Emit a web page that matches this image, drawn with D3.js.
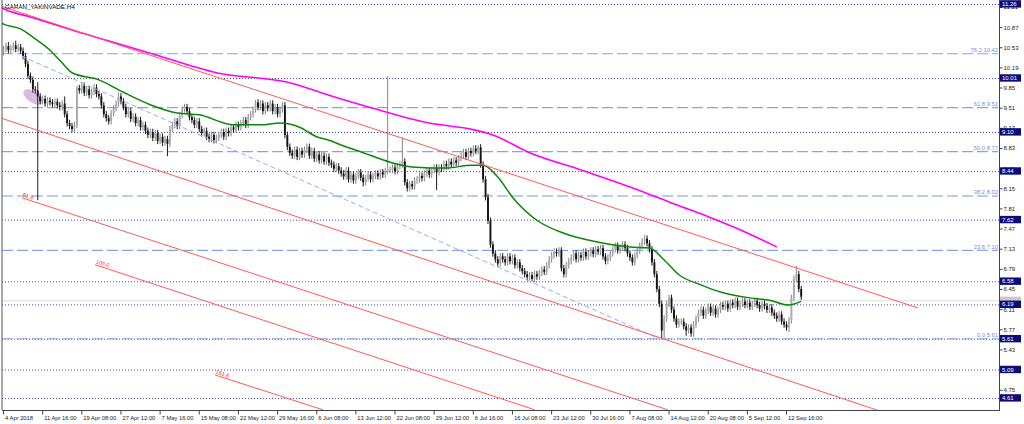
<!DOCTYPE html>
<html><head><meta charset="utf-8">
<script src="https://cdn.jsdelivr.net/npm/d3@7"></script>
<style>
body{margin:0;background:#fff}
svg{display:block}
text{font-family:"Liberation Sans",Arial,sans-serif}
</style>
</head><body>
<svg id="c" width="1024" height="424"></svg>
<script>
// ---------------- DATA ----------------
const title = "GARAN_YAKINVADE,H4";
const firstOpen = 10.45;
const closes = [
10.50,10.55,10.48,10.52,10.56,10.50,10.53,10.47,
10.38,10.25,10.05,9.98,9.82,9.80,
9.70,
9.62,9.66,9.58,9.63,9.60,9.57,9.61,9.55,
9.52,9.58,
9.40,
9.25,9.20,9.15,9.22,
9.84,
9.80,9.88,9.76,9.82,9.72,9.78,9.85,9.74,9.70,
9.55,9.40,9.33,9.28,9.42,
9.50,9.58,9.70,9.62,9.52,
9.40,9.45,9.32,9.36,9.25,9.30,9.18,9.22,9.12,9.05,9.10,
9.00,9.08,8.95,9.02,8.92,8.98,8.90,
9.15,9.22,9.28,9.20,
9.38,9.48,9.52,9.45,
9.35,9.30,9.22,9.28,9.15,9.08,9.12,9.02,8.98,9.05,8.96,
9.00,9.05,9.10,9.02,9.12,9.08,9.18,9.14,9.22,9.18,
9.25,9.30,9.22,9.35,
9.40,9.48,9.60,9.52,9.58,9.45,9.55,
9.50,9.58,9.45,9.52,9.40,9.48,9.55,
9.05,
8.85,8.75,8.70,8.80,8.68,8.78,
8.72,8.80,8.85,8.70,8.78,8.65,8.72,8.62,8.70,8.60,8.68,8.58,
8.55,8.48,8.52,8.45,
8.40,8.35,8.45,8.30,8.38,8.28,8.36,8.42,8.33,8.25,8.32,8.38,8.30,8.36,8.40,8.35,8.42,8.38,8.44,
8.46,
8.46,8.50,8.44,8.52,8.55,
8.60,
8.25,8.15,8.22,8.18,8.28,
8.30,8.36,8.32,8.40,8.45,8.38,8.46,8.50,
8.42,8.50,8.48,8.56,8.52,8.60,8.55,8.62,8.58,8.66,
8.70,8.76,8.68,8.78,8.74,8.82,8.78,8.84,
8.55,8.30,8.00,7.60,7.20,
7.05,6.95,6.88,7.00,
6.95,6.90,7.00,6.92,6.98,6.85,6.90,6.80,
6.75,6.70,6.65,6.68,6.62,6.70,6.66,6.72,6.78,6.74,
6.85,6.95,7.02,7.08,7.05,
7.10,6.80,6.70,6.85,
6.92,6.98,7.05,6.95,7.02,6.98,7.08,7.00,7.05,7.10,7.04,7.12,7.08,7.14,
7.00,6.92,6.98,7.05,
7.12,7.18,7.10,7.15,7.20,7.14,
7.05,6.98,6.90,7.02,7.10,7.18,
7.25,7.30,7.22,7.12,
6.90,6.70,6.45,6.20,
5.75,5.95,
6.20,6.30,6.10,5.95,5.85,5.90,
5.90,5.82,5.75,5.80,5.70,5.85,5.95,
6.05,6.10,6.00,6.08,6.15,6.05,6.12,6.02,6.10,6.18,
6.15,6.20,6.12,6.22,6.18,6.25,6.15,6.20,6.24,6.18,6.22,6.15,6.20,6.25,6.18,6.12,6.20,6.16,6.10,6.14,
6.05,6.00,5.95,6.02,5.90,5.85,5.80,5.92,
6.30,6.62,6.70,
6.45,6.32
];
const defaultWick = 0.055;
const wickHighs = [[2,10.62],[5,10.64],[14,9.94],[25,9.70],[30,9.88],[47,9.76],[103,9.64],[157,10.04],[163,9.01],[194,8.88],[262,7.36],[324,6.84]];
const wickLows  = [[14,7.95],[67,8.69],[147,8.18],[177,8.12],[216,6.58],[269,5.61],[270,5.62],[279,5.66],[321,5.72]];

const greenMA = [[-1.4,10.95],[0,10.92],[7,10.84],[12,10.70],[19,10.48],[23,10.31],[28,10.10],[39,9.98],[49,9.77],[60,9.56],[71,9.42],[80,9.39],[94,9.22],[105,9.22],[113,9.25],[121,9.18],[128,9.02],[133,8.96],[138,8.88],[147,8.75],[158,8.59],[167,8.51],[181,8.49],[191,8.54],[196,8.54],[202,8.34],[208,8.00],[218,7.61],[229,7.39],[243,7.24],[256,7.16],[264,7.14],[270,6.94],[276,6.69],[285,6.52],[293,6.40],[305,6.30],[313,6.26],[321,6.18],[326,6.24]];
const magentaMA = [[-1.4,11.21],[0,11.18],[11,11.04],[28,10.82],[60,10.43],[87,10.10],[117,9.93],[133,9.72],[151,9.50],[174,9.25],[192,9.14],[200,9.05],[215,8.75],[236,8.46],[250,8.26],[262,8.08],[275,7.87],[288,7.67],[301,7.45],[316,7.16]];

const levelLines = [11.26,10.01,9.10,8.44,7.62,6.58,6.19,5.61,5.09,4.61];
const fibNames  = ["76.2","61.8","50.0","38.2","23.6","0.0"];
const fibValues = [10.42,9.51,8.77,8.02,7.10,5.61];
const priceTicks = [11.21,10.87,10.53,10.19,9.85,9.51,9.17,8.83,8.49,8.15,7.81,7.47,7.13,6.79,6.45,6.11,5.77,5.43,5.09,4.75];
const currentPrice = 6.25;
const dateLabels = ["4 Apr 2018","11 Apr 16:00","19 Apr 08:00","27 Apr 12:00","7 May 16:00","15 May 08:00","22 May 12:00","29 May 16:00","6 Jun 08:00","13 Jun 12:00","22 Jun 08:00","29 Jun 12:00","6 Jul 16:00","16 Jul 08:00","23 Jul 12:00","30 Jul 16:00","7 Aug 08:00","14 Aug 12:00","20 Aug 08:00","5 Sep 12:00","12 Sep 16:00"];
const barsPerLabel = 16;

const channelStarts = [[-1.43,11.23],[-1.43,9.34],[7.56,7.99],[37.4,6.86],[86.4,5.00]];
const channelEnds   = [[373.7,6.13],[358.2,4.39],[271.5,4.41],[217.2,4.41],[130.6,4.41]];
const channelNames  = ["","","61.8","100.0","161.8"];
const fibTrend = [[7.5,10.38],[268,5.61]];
const ellipseAt = [12,9.69];

// ---------------- LAYOUT ----------------
const W = 1024, H = 424;
const plotL = 2, plotR = 999, plotT = 0, plotB = 410;
const svg = d3.select("#c");
const x = d3.scaleLinear().domain([-1.43, 407.2]).range([0, 999.9]);
const y = d3.scaleLinear().domain([11.26, 4.61]).range([4, 398]);

svg.append("rect").attr("width",W).attr("height",H).attr("fill","#fff");
svg.append("defs").append("clipPath").attr("id","clip")
  .append("rect").attr("x",plotL).attr("y",plotT).attr("width",plotR-plotL).attr("height",plotB-plotT);
const g = svg.append("g").attr("clip-path","url(#clip)");

// horizontal dotted levels
g.selectAll("line.lvl").data(levelLines).enter().append("line")
  .attr("x1",plotL).attr("x2",plotR).attr("y1",d=>y(d)+0.5).attr("y2",d=>y(d)+0.5)
  .attr("stroke","#4646b2").attr("stroke-width",1).attr("stroke-dasharray","1,2");

// fib lines
g.selectAll("line.fib").data(fibValues).enter().append("line")
  .attr("x1",plotL).attr("x2",998).attr("y1",d=>y(d)).attr("y2",d=>y(d))
  .attr("stroke",(d,i)=>fibNames[i]==="38.2"?"#b9cdf3":"#86a4ec")
  .attr("stroke-width",(d,i)=>fibNames[i]==="38.2"?2:1.2)
  .attr("stroke-dasharray","11,4");

// current price line
g.append("line").attr("x1",plotL).attr("x2",plotR).attr("y1",y(currentPrice)).attr("y2",y(currentPrice))
  .attr("stroke","#dcdcdc").attr("stroke-width",1);

// ellipse
g.append("ellipse").attr("cx",x(ellipseAt[0])).attr("cy",y(ellipseAt[1])).attr("rx",11).attr("ry",5.5)
  .attr("transform",`rotate(35 ${x(ellipseAt[0])} ${y(ellipseAt[1])})`)
  .attr("fill","rgba(185,145,195,0.6)");

// candles
const hiMap = new Map(wickHighs), loMap = new Map(wickLows);
const candles = closes.map((c,i)=>{
  const o = i===0 ? firstOpen : closes[i-1];
  const hi = hiMap.has(i) ? hiMap.get(i) : Math.max(o,c)+defaultWick;
  const lo = loMap.has(i) ? loMap.get(i) : Math.min(o,c)-defaultWick;
  return {i,o,c,hi,lo,up:c>=o};
});
const cg = g.append("g");
cg.selectAll("line.w").data(candles).enter().append("line")
  .attr("x1",d=>x(d.i)).attr("x2",d=>x(d.i)).attr("y1",d=>y(d.hi)).attr("y2",d=>y(d.lo))
  .attr("stroke",d=>d.up?"#858585":"#1c1c1c").attr("stroke-width",1);
cg.selectAll("rect.b").data(candles).enter().append("rect")
  .attr("x",d=>x(d.i)-0.95).attr("width",1.9)
  .attr("y",d=>y(Math.max(d.o,d.c)))
  .attr("height",d=>Math.max(0.9,Math.abs(y(d.o)-y(d.c))))
  .attr("fill",d=>d.up?"#ababab":"#151515");

// moving averages
const line = d3.line().x(d=>x(d[0])).y(d=>y(d[1])).curve(d3.curveMonotoneX);
g.append("path").datum(magentaMA).attr("d",line).attr("fill","none").attr("stroke","#ff00ff").attr("stroke-width",1.6);
g.append("path").datum(greenMA).attr("d",line).attr("fill","none").attr("stroke","#0a880a").attr("stroke-width",1.5);

// fib trend line
g.append("line").attr("x1",x(fibTrend[0][0])).attr("y1",y(fibTrend[0][1]))
  .attr("x2",x(fibTrend[1][0])).attr("y2",y(fibTrend[1][1]))
  .attr("stroke","#8fb0f0").attr("stroke-width",1).attr("stroke-dasharray","5,3");

// channel lines
channelStarts.forEach((s,k)=>{
  const e = channelEnds[k];
  const x1=x(s[0]), y1=y(s[1]), x2=x(e[0]), y2=y(e[1]);
  g.append("line").attr("x1",x1).attr("y1",y1).attr("x2",x2).attr("y2",y2)
    .attr("stroke","#ff5a5a").attr("stroke-width",1);
  if(channelNames[k]){
    const ang = Math.atan2(y2-y1,x2-x1)*180/Math.PI;
    g.append("text").attr("x",x1).attr("y",y1-1.5)
      .attr("transform",`rotate(${ang} ${x1} ${y1})`)
      .attr("font-size",5.5).attr("fill","#e83030").text(channelNames[k]);
  }
});

// fib labels
svg.selectAll("text.fib").data(fibValues).enter().append("text")
  .attr("x",998).attr("y",d=>y(d)-1.5).attr("text-anchor","end")
  .attr("font-size",5.8).attr("fill","#6f8fe4")
  .text((d,i)=>`${fibNames[i]} ${d.toFixed(2)}`);

// title
svg.append("text").attr("x",5).attr("y",8.5).attr("font-size",6.2).attr("fill","#000").text(title);

// borders
svg.append("line").attr("x1",plotL).attr("x2",plotL).attr("y1",0).attr("y2",plotB).attr("stroke","#555").attr("stroke-width",1);
svg.append("line").attr("x1",plotL).attr("x2",plotR+0.5).attr("y1",plotB+0.5).attr("y2",plotB+0.5).attr("stroke","#444").attr("stroke-width",1);
svg.append("line").attr("x1",plotR+0.5).attr("x2",plotR+0.5).attr("y1",0).attr("y2",plotB+1).attr("stroke","#444").attr("stroke-width",1);

// right axis (labels fully hidden behind level boxes are not drawn)
const hidden = v => levelLines.some(l => Math.abs(l - v) < 0.045);
const ay = svg.append("g").attr("transform",`translate(${plotR+0.5},0)`)
  .call(d3.axisRight(y).tickValues(priceTicks).tickSize(3)
    .tickFormat(v => hidden(v) ? "" : d3.format(".2f")(v)));
ay.select(".domain").remove();
ay.selectAll("line").attr("stroke","#444");
ay.selectAll("text").attr("font-size",6).attr("fill","#222").attr("x",4)
  .attr("font-family","Liberation Sans, Arial, sans-serif");

// current price box
svg.append("rect").attr("x",1000).attr("y",y(currentPrice)-4.2).attr("width",21).attr("height",7.2).attr("fill","#cacaca");

// level boxes
const lb = svg.selectAll("g.lb").data(levelLines).enter().append("g");
lb.append("rect").attr("x",1000).attr("y",d=>y(d)-3.8).attr("width",21).attr("height",7.4).attr("fill","#0c0c7a");
lb.append("text").attr("x",1002).attr("y",d=>y(d)+2.1).attr("font-size",6).attr("fill","#fff").text(d=>d.toFixed(2));

// bottom axis
const tickIdx = dateLabels.map((d,k)=>k*barsPerLabel);
const ax = svg.append("g").attr("transform",`translate(0,${plotB+0.5})`)
  .call(d3.axisBottom(x).tickValues(tickIdx).tickSize(4).tickFormat((d,k)=>dateLabels[k]));
ax.select(".domain").remove();
ax.selectAll("line").attr("stroke","#444").attr("transform","translate(-0.5,0)");
ax.selectAll("text").attr("font-size",5.8).attr("fill","#222").attr("text-anchor","start")
  .attr("x",1).attr("y",5).attr("font-family","Liberation Sans, Arial, sans-serif");
</script>
</body></html>
